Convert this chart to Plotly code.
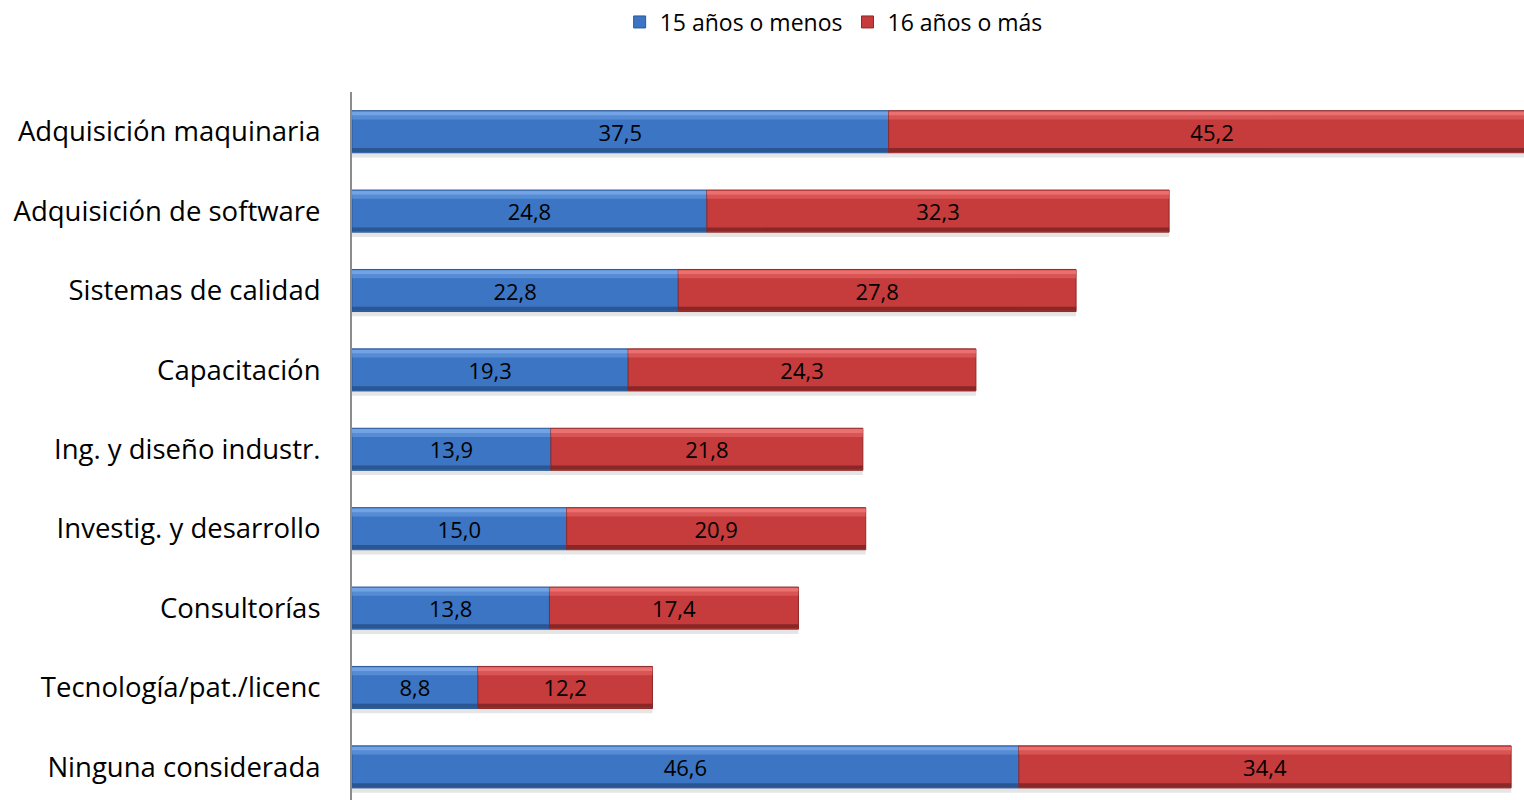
import plotly.graph_objects as go

categories = ["Adquisición maquinaria", "Adquisición de software", "Sistemas de calidad",
              "Capacitación", "Ing. y diseño industr.", "Investig. y desarrollo",
              "Consultorías", "Tecnología/pat./licenc", "Ninguna considerada"]
menos15 = [37.5, 24.8, 22.8, 19.3, 13.9, 15.0, 13.8, 8.8, 46.6]
mas16 = [45.2, 32.3, 27.8, 24.3, 21.8, 20.9, 17.4, 12.2, 34.4]
series_names = ["15 años o menos", "16 años o más"]

FONT = "Open Sans"
W = 0.53
idx = list(range(len(categories)))

fig = go.Figure()

def fmt(v):
    return f"{v:.1f}".replace(".", ",")

specs = [
    (series_names[0], menos15, [0]*len(menos15), "#3B75C4", "#2B5A99", "#78A9E8", "#264F86"),
    (series_names[1], mas16, menos15, "#C63B3B", "#8E2A2A", "#F07676", "#7A2323"),
]
# shadows
for name, vals, base, c, edge, hi, lo in specs:
    fig.add_trace(go.Bar(y=idx, x=vals, base=base, orientation="h", width=0.06, offset=W/2,
                         marker=dict(color="rgba(0,0,0,0.10)", line=dict(width=0)),
                         showlegend=False, hoverinfo="skip"))
for name, vals, base, c, edge, hi, lo in specs:
    fig.add_trace(go.Bar(y=idx, x=vals, base=base, orientation="h", width=W, offset=-W/2,
                         name=name, marker=dict(color=c, line=dict(color=edge, width=1)),
                         text=[fmt(v) for v in vals], textposition="inside",
                         insidetextanchor="middle", textangle=0,
                         textfont=dict(family=FONT, size=22, color="black"),
                         hoverinfo="skip"))
    # top highlight
    fig.add_trace(go.Bar(y=idx, x=vals, base=base, orientation="h", width=0.05, offset=-W/2+0.01,
                         marker=dict(color=hi, line=dict(width=0)), opacity=0.9,
                         showlegend=False, hoverinfo="skip"))
    fig.add_trace(go.Bar(y=idx, x=vals, base=base, orientation="h", width=0.05, offset=-W/2+0.06,
                         marker=dict(color=hi, line=dict(width=0)), opacity=0.45,
                         showlegend=False, hoverinfo="skip"))
    # bottom shade
    fig.add_trace(go.Bar(y=idx, x=vals, base=base, orientation="h", width=0.05, offset=W/2-0.06,
                         marker=dict(color=lo, line=dict(width=0)), opacity=0.8,
                         showlegend=False, hoverinfo="skip"))

fig.update_layout(
    width=1524, height=800,
    margin=dict(l=352, r=0, t=92, b=0),
    barmode="overlay",
    plot_bgcolor="white", paper_bgcolor="white",
    font=dict(family=FONT, color="black"),
    showlegend=True,
    legend=dict(orientation="h", xref="container", yref="container", x=0.547, y=1-22/800,
                xanchor="center", yanchor="middle", font=dict(family=FONT, size=23),
                itemwidth=30, tracegroupgap=0),
    xaxis=dict(range=[0, 81.9], visible=False, fixedrange=True),
    yaxis=dict(range=[8.417, -0.5], tickmode="array", tickvals=idx, ticktext=categories,
               showline=True, linecolor="#8c8c8c", linewidth=2, ticks="", showgrid=False,
               zeroline=False, tickfont=dict(family=FONT, size=27.5, color="black"),
               ticklabelstandoff=24, fixedrange=True),
)

fig.write_html("out.html", config={"displayModeBar": False},
               post_script="document.body.style.margin='0';document.body.style.overflow='hidden';")
